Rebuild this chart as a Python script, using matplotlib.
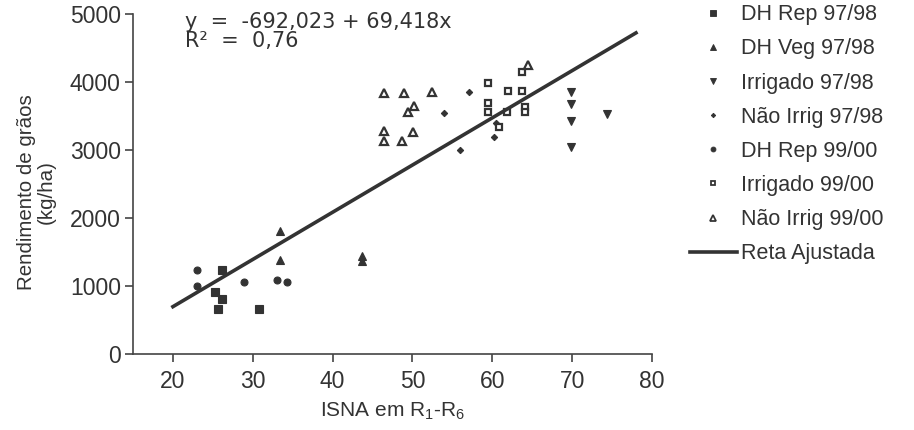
import numpy as np
import matplotlib
matplotlib.use("Agg")
import matplotlib.pyplot as plt
from matplotlib.lines import Line2D

plt.rcParams['font.family'] = ['Liberation Sans', 'DejaVu Sans']
plt.rcParams['mathtext.fontset'] = 'custom'
plt.rcParams['mathtext.rm'] = 'Liberation Sans'
plt.rcParams['mathtext.it'] = 'Liberation Sans'

INK = '#333333'

# ISNA (x) e rendimento (y) por tratamento/safra
dh_rep_9798_x = [26.1, 25.3, 26.2, 25.7, 30.8]
dh_rep_9798_y = [1231, 907, 809, 656, 656]

dh_veg_9798_x = [33.4, 33.4, 43.7, 43.7]
dh_veg_9798_y = [1814, 1382, 1441, 1368]

irrig_9798_x = [69.9, 69.9, 69.9, 69.9, 74.4]
irrig_9798_y = [3858, 3672, 3426, 3049, 3529]

nao_irrig_9798_x = [57.1, 54.0, 60.5, 60.2, 56.0]
nao_irrig_9798_y = [3847, 3540, 3400, 3195, 2994]

dh_rep_9900_x = [23.0, 23.0, 28.9, 33.1, 34.3]
dh_rep_9900_y = [1231, 1000, 1059, 1088, 1063]

irrig_9900_x = [59.5, 59.5, 59.5, 62.0, 63.7, 61.9, 64.1, 64.1, 60.9, 63.7]
irrig_9900_y = [3980, 3686, 3563, 3872, 3872, 3554, 3637, 3563, 3343, 4151]

nao_irrig_9900_x = [46.5, 48.9, 52.4, 49.5, 50.2, 46.5, 46.5, 48.7, 50.1, 64.5]
nao_irrig_9900_y = [3843, 3833, 3858, 3563, 3647, 3284, 3132, 3132, 3260, 4250]

# reta ajustada
b0, b1 = -692.023, 69.418
r2 = 0.76
fit_x = np.array([20.0, 78.0])

# nome, x, y, marcador, cheio, tamanho, espessura da borda
series = [
    ('DH Rep 97/98', dh_rep_9798_x, dh_rep_9798_y, 's', True, 5.6, 0.8),
    ('DH Veg 97/98', dh_veg_9798_x, dh_veg_9798_y, '^', True, 5.2, 0.8),
    ('Irrigado 97/98', irrig_9798_x, irrig_9798_y, 'v', True, 5.2, 0.8),
    ('Não Irrig 97/98', nao_irrig_9798_x, nao_irrig_9798_y, 'D', True, 3.2, 0.8),
    ('DH Rep 99/00', dh_rep_9900_x, dh_rep_9900_y, 'o', True, 5.0, 0.8),
    ('Irrigado 99/00', irrig_9900_x, irrig_9900_y, 's', False, 4.6, 1.6),
    ('Não Irrig 99/00', nao_irrig_9900_x, nao_irrig_9900_y, '^', False, 5.6, 1.6),
]

fig = plt.figure(figsize=(9.14, 4.30), dpi=100)
ax = fig.add_axes([0.1455, 0.1767, 0.7133 - 0.1455, 0.9674 - 0.1767])

handles = []
for name, xs, ys, mk, filled, ms, mew in series:
    face = INK if filled else 'white'
    ax.plot(xs, ys, linestyle='none', marker=mk, markersize=ms,
            markerfacecolor=face, markeredgecolor=INK, markeredgewidth=mew)
    handles.append(Line2D([], [], linestyle='none', marker=mk, markersize=ms * 0.7,
                          markerfacecolor=face, markeredgecolor=INK,
                          markeredgewidth=mew * 0.8, label=name))

ax.plot(fit_x, b0 + b1 * fit_x, color=INK, linewidth=2.6)
handles.append(Line2D([], [], color=INK, linewidth=2.6, label='Reta Ajustada'))

ax.set_xlim(15, 80)
ax.set_ylim(0, 5000)
ax.set_xticks([20, 30, 40, 50, 60, 70, 80])
ax.set_yticks([0, 1000, 2000, 3000, 4000, 5000])
for side in ('top', 'right'):
    ax.spines[side].set_visible(False)
for side in ('left', 'bottom'):
    ax.spines[side].set_color('#444444')
    ax.spines[side].set_linewidth(1.2)
ax.tick_params(direction='out', length=5.8, width=1.2, color='#444444',
               labelsize=16.5, labelcolor=INK, pad=3)
ax.tick_params(axis='x', pad=5.5)

ax.set_xlabel('ISNA em R$_1$-R$_6$', fontsize=15, color=INK, labelpad=6)
ax.set_ylabel('Rendimento de grãos\n(kg/ha)', fontsize=14.8, color=INK,
              linespacing=1.05)
ax.yaxis.set_label_coords(-0.149, 0.475)

# equação da reta, em fonte mais larga
eq = 'y  =  {:,.3f} + {:,.3f}x'.format(b0, b1).replace('.', ',')
fig.text(0.2024, 1 - 28 / 430, eq, fontsize=15, family='DejaVu Sans',
         color=INK, va='baseline', ha='left')
fig.text(0.2024, 1 - 47 / 430, 'R²  =  ' + '{:.2f}'.format(r2).replace('.', ','),
         fontsize=15, family='DejaVu Sans', color=INK, va='baseline', ha='left')

fig.legend(handles=handles, loc='upper left', bbox_to_anchor=(0.745, 1.01),
           frameon=False, fontsize=15.5, labelcolor=INK, handlelength=2.2,
           handletextpad=0.2, labelspacing=0.61, borderaxespad=0)

fig.savefig('out.png', dpi=100, facecolor='white')
